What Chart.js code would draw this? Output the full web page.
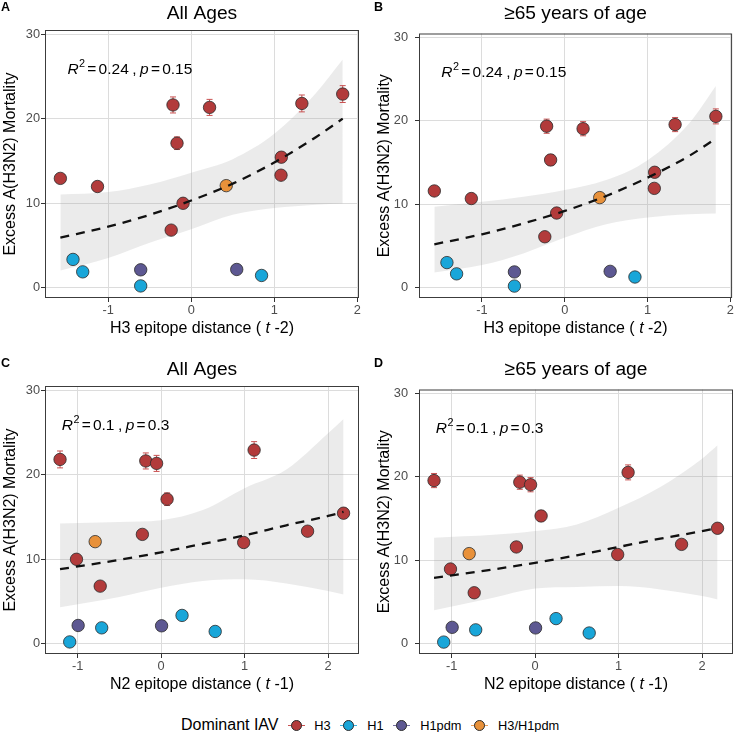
<!DOCTYPE html>
<html>
<head>
<meta charset="utf-8">
<script src="https://cdn.jsdelivr.net/npm/chart.js@4.4.0/dist/chart.umd.min.js"></script>
<style>
  body { margin: 0; background: #fff; font-family: 'Liberation Sans', Arial, sans-serif; }
  #page { position: relative; width: 735px; height: 732px; overflow: hidden; }
  canvas.panel { position: absolute; }
  #legend { position: absolute; left: 181px; top: 714px; height: 22px; display: flex; align-items: center; white-space: nowrap; }
  #legend .ltitle { font-size: 16px; color: #000; margin-right: 9px; }
  #legend .key { position: relative; display: inline-block; width: 17px; height: 12px; margin-right: 9.8px; }
  #legend .key i { position: absolute; left: 0; right: 0; top: 5.5px; height: 1px; }
  #legend .key b { position: absolute; left: 3px; top: 0.5px; width: 11px; height: 11px; border-radius: 50%; border: 0.8px solid #2b2b2b; box-sizing: border-box; }
  #legend .ltext { font-size: 12.8px; color: #000; margin-right: 9.8px; }
</style>
</head>
<body>
<div id="page">
  <canvas id="panelA" class="panel" width="367" height="350" style="left:0;top:0"></canvas>
  <canvas id="panelB" class="panel" width="368" height="350" style="left:367px;top:0"></canvas>
  <canvas id="panelC" class="panel" width="367" height="350" style="left:0;top:356px"></canvas>
  <canvas id="panelD" class="panel" width="368" height="350" style="left:367px;top:356px"></canvas>
  <div id="legend"><span class="ltitle">Dominant IAV</span></div>
</div>
<script>
// one entry per season
const subtypeNames = ['H3', 'H1', 'H1pdm', 'H3/H1pdm'];
const seasonSubtype = ['H3', 'H3', 'H3', 'H3', 'H3', 'H3', 'H3', 'H3', 'H3', 'H3', 'H3', 'H3/H1pdm', 'H1', 'H1', 'H1', 'H1', 'H1pdm', 'H1pdm'];
const h3EpitopeDist = [-1.575, -1.128, -0.219, -0.171, -0.098, -0.241, 0.221, 1.085, 1.081, 1.332, 1.824, 0.422, -1.423, -1.306, -0.608, 0.847, -0.608, 0.548];
const n2EpitopeDist = [-0.224, 0.989, -0.183, 0.072, -1.013, -0.729, -0.054, 2.185, 1.754, -1.210, 1.114, -0.789, 0.251, -0.711, -1.094, 0.648, 0.006, -0.993];
const excessAllAges = [12.92, 11.96, 21.62, 17.09, 9.97, 6.79, 21.33, 15.43, 13.30, 21.80, 22.91, 12.06, 3.32, 1.85, 0.18, 1.42, 2.09, 2.13];
const excessAllAgesErr = [0.5, 0.45, 0.95, 0.75, 0.4, 0.3, 0.95, 0.6, 0.5, 1.0, 1.0, 0.4, 0.15, 0.1, 0.05, 0.1, 0.1, 0.1];
const excess65 = [11.60, 10.69, 19.37, 15.32, 8.95, 6.10, 19.07, 13.84, 11.91, 19.57, 20.55, 10.80, 3.00, 1.65, 0.18, 1.27, 1.88, 1.95];
const excess65Err = [0.45, 0.4, 0.85, 0.65, 0.35, 0.25, 0.85, 0.55, 0.45, 0.85, 0.9, 0.35, 0.12, 0.08, 0.04, 0.08, 0.08, 0.08];

// fitted trend and its confidence band
const trendXA = [-1.575, -1.0, -0.5, 0, 0.5, 1.0, 1.5, 1.824];
const trendFitA = [5.9, 7.2, 8.6, 10.3, 12.3, 14.8, 17.8, 20.0];
const trendLowA = [2.0, 3.5, 5.3, 6.9, 8.6, 9.4, 9.8, 9.95];
const trendHighA = [11.0, 11.3, 12.2, 13.6, 15.2, 18.2, 23.0, 27.0];

const trendXB = [-1.575, -1.0, -0.5, 0, 0.5, 1.0, 1.5, 1.824];
const trendFitB = [5.2, 6.4, 7.7, 9.2, 11.0, 13.2, 15.8, 17.9];
const trendLowB = [1.8, 2.7, 4.1, 6.0, 7.6, 8.4, 8.8, 8.9];
const trendHighB = [9.7, 10.3, 10.9, 11.7, 12.9, 15.3, 19.7, 24.2];

const trendXC = [-1.21, -0.5, 0, 0.5, 1.0, 1.5, 2.0, 2.185];
const trendFitC = [8.8, 9.9, 10.8, 11.8, 12.8, 14.0, 15.1, 15.6];
const trendLowC = [4.3, 5.5, 6.6, 7.4, 7.6, 7.1, 6.2, 5.8];
const trendHighC = [14.2, 14.4, 14.6, 15.8, 18.4, 20.6, 24.9, 26.6];

const trendXD = [-1.21, -0.5, 0, 0.5, 1.0, 1.5, 2.0, 2.185];
const trendFitD = [7.9, 8.9, 9.7, 10.6, 11.6, 12.6, 13.5, 13.9];
const trendLowD = [4.0, 5.5, 6.6, 6.8, 6.9, 6.5, 5.7, 5.3];
const trendHighD = [12.7, 13.05, 13.5, 14.3, 16.3, 18.8, 22.2, 23.8];

const statR2 = ['0.24', '0.24', '0.1', '0.1'];
const statP = ['0.15', '0.15', '0.3', '0.3'];

const xTickValues = [-1, 0, 1, 2];
const yTickValues = [0, 10, 20, 30];
const xLimitsH3 = [-1.76, 2.02];
const xLimitsN2 = [-1.39, 2.37];
const yLimits = [-1.25, 30.5];

const FONT = "'Liberation Sans', Arial, Helvetica, sans-serif";
const subtypeColors = { 'H3': '#B23B3B', 'H1': '#19A6D9', 'H1pdm': '#5D5892', 'H3/H1pdm': '#E8913A' };
const errorColors = { 'H3': '#C95252', 'H1': '#3DB3DE', 'H1pdm': '#7470A2', 'H3/H1pdm': '#EBA05A' };

Chart.defaults.font.family = FONT;

function drawRich(ctx, parts, x, y, size, align) {
  const widths = parts.map(p => {
    ctx.font = (p.italic ? 'italic ' : '') + (p.sup ? size * 0.7 : size) + 'px ' + FONT;
    return ctx.measureText(p.text).width + (p.gap || 0);
  });
  const total = widths.reduce((a, b) => a + b, 0);
  let cx = align === 'center' ? x - total / 2 : x;
  ctx.textAlign = 'left';
  ctx.textBaseline = 'alphabetic';
  parts.forEach((p, i) => {
    ctx.font = (p.italic ? 'italic ' : '') + (p.sup ? size * 0.7 : size) + 'px ' + FONT;
    ctx.fillText(p.text, cx, p.sup ? y - size * 0.42 : y);
    cx += widths[i];
  });
}

const panelDecor = {
  id: 'panelDecor',
  beforeDatasetDraw(chart, args) {
    const ds = chart.data.datasets[args.index];
    if (!ds.errors) return;
    const { ctx, scales: { x, y } } = chart;
    ctx.save();
    ctx.strokeStyle = ds.errorColor;
    ctx.lineWidth = 1;
    ds.data.forEach((pt, i) => {
      const e = ds.errors[i];
      if (!e) return;
      const px = x.getPixelForValue(pt.x);
      const y1 = y.getPixelForValue(pt.y + e);
      const y2 = y.getPixelForValue(pt.y - e);
      ctx.beginPath();
      ctx.moveTo(px, y1); ctx.lineTo(px, y2);
      ctx.moveTo(px - 3, y1); ctx.lineTo(px + 3, y1);
      ctx.moveTo(px - 3, y2); ctx.lineTo(px + 3, y2);
      ctx.stroke();
    });
    ctx.restore();
  },
  afterDraw(chart, args, opts) {
    const { ctx, chartArea: a, scales: { x, y } } = chart;
    ctx.save();
    ctx.strokeStyle = '#3c3c3c';
    ctx.lineWidth = 1;
    ctx.strokeRect(a.left + 0.5, a.top + 0.5, a.right - a.left - 1, a.bottom - a.top - 1);

    ctx.fillStyle = '#000';
    ctx.font = 'bold 12.5px ' + FONT;
    ctx.textAlign = 'left';
    ctx.fillText(opts.letter, opts.letterX, 11);

    ctx.font = '19.2px ' + FONT;
    ctx.textAlign = 'center';
    ctx.fillText(opts.title, (a.left + a.right) / 2, 19);

    // plotmath-like spacing: tighter than normal spaces
    drawRich(ctx, [
      { text: 'R', italic: true, gap: 0.5 },
      { text: '2', sup: true, gap: 2.2 },
      { text: '=', gap: 2.2 },
      { text: opts.r2, gap: 3.5 },
      { text: ',', gap: 3.5 },
      { text: 'p', italic: true, gap: 2.2 },
      { text: '=', gap: 2.2 },
      { text: opts.p }
    ], x.getPixelForValue(opts.statAt[0]), y.getPixelForValue(opts.statAt[1]), 15.5, 'left');

    drawRich(ctx, [
      { text: opts.xTitle + ' ( ' },
      { text: 't', italic: true },
      { text: ' -' + opts.lag + ')' }
    ], (a.left + a.right) / 2, a.bottom + 35, 16, 'center');
    ctx.restore();
  }
};

function makePanel(p) {
  const canvas = document.getElementById(p.id);
  const W = canvas.width, H = canvas.height;
  const pointSets = subtypeNames.map(name => {
    const idx = seasonSubtype.map((s, i) => (s === name ? i : -1)).filter(i => i >= 0);
    return {
      label: name,
      data: idx.map(i => ({ x: p.x[i], y: p.y[i] })),
      errors: idx.map(i => p.err[i]),
      errorColor: errorColors[name],
      showLine: false,
      pointRadius: 6.2,
      pointHoverRadius: 6.2,
      pointBackgroundColor: subtypeColors[name],
      pointBorderColor: '#2b2b2b',
      pointBorderWidth: 0.8,
      order: 1
    };
  });

  new Chart(canvas, {
    type: 'line',
    data: {
      datasets: [
        {
          data: p.trend.x.map((v, i) => ({ x: v, y: p.trend.low[i] })),
          borderWidth: 0, pointRadius: 0, fill: false,
          cubicInterpolationMode: 'monotone', order: 5
        },
        {
          data: p.trend.x.map((v, i) => ({ x: v, y: p.trend.high[i] })),
          borderWidth: 0, pointRadius: 0, fill: '-1',
          backgroundColor: 'rgba(153,153,153,0.2)',
          cubicInterpolationMode: 'monotone', order: 4
        },
        {
          data: p.trend.x.map((v, i) => ({ x: v, y: p.trend.fit[i] })),
          borderColor: '#111', borderWidth: 2.3, borderDash: [9, 7],
          pointRadius: 0, fill: false,
          cubicInterpolationMode: 'monotone', order: 0
        },
        ...pointSets
      ]
    },
    options: {
      responsive: false,
      animation: false,
      events: [],
      layout: { autoPadding: false, padding: { left: 0, right: W - p.plotRight, top: p.plotTop, bottom: 0 } },
      plugins: {
        legend: { display: false },
        tooltip: { enabled: false },
        panelDecor: {
          letter: p.letter, letterX: p.letterX, title: p.title,
          r2: p.r2, p: p.p, statAt: p.statAt,
          xTitle: p.xTitle, lag: p.lag
        }
      },
      scales: {
        x: {
          type: 'linear', min: p.xlim[0], max: p.xlim[1],
          afterBuildTicks: s => { s.ticks = xTickValues.map(v => ({ value: v })); },
          afterFit: s => { s.height = H - 298; },
          grid: { color: '#dcdcdc', tickColor: '#333', tickLength: 4, lineWidth: 1 },
          border: { display: false },
          ticks: { color: '#4d4d4d', font: { size: 12.8 }, padding: 1, maxRotation: 0, autoSkip: false }
        },
        y: {
          type: 'linear', min: yLimits[0], max: yLimits[1],
          afterBuildTicks: s => { s.ticks = yTickValues.map(v => ({ value: v })); },
          afterFit: s => { s.width = p.plotLeft; },
          grid: { color: '#dcdcdc', tickColor: '#333', tickLength: 4, lineWidth: 1 },
          border: { display: false },
          ticks: { color: '#4d4d4d', font: { size: 12.8 }, padding: p.yTickPad, autoSkip: false },
          title: {
            display: true, text: 'Excess A(H3N2) Mortality', color: '#000',
            font: { size: 16 }, padding: { top: p.yTitlePad, bottom: 0 }
          }
        }
      }
    },
    plugins: [panelDecor]
  });
}

const panels = [
  {
    id: 'panelA', letter: 'A', letterX: 1, title: 'All Ages',
    x: h3EpitopeDist, y: excessAllAges, err: excessAllAgesErr, xlim: xLimitsH3,
    trend: { x: trendXA, fit: trendFitA, low: trendLowA, high: trendHighA },
    r2: statR2[0], p: statP[0], statAt: [-1.49, 25.3],
    xTitle: 'H3 epitope distance', lag: '2',
    plotLeft: 45, plotRight: 359, plotTop: 30, yTickPad: 1, yTitlePad: 1.2
  },
  {
    id: 'panelB', letter: 'B', letterX: 7, title: '\u226565 years of age',
    x: h3EpitopeDist, y: excess65, err: excess65Err, xlim: xLimitsH3,
    trend: { x: trendXB, fit: trendFitB, low: trendLowB, high: trendHighB },
    r2: statR2[1], p: statP[1], statAt: [-1.49, 25.3],
    xTitle: 'H3 epitope distance', lag: '2',
    plotLeft: 52, plotRight: 366, plotTop: 33.5, yTickPad: 7, yTitlePad: 8.4
  },
  {
    id: 'panelC', letter: 'C', letterX: 1, title: 'All Ages',
    x: n2EpitopeDist, y: excessAllAges, err: excessAllAgesErr, xlim: xLimitsN2,
    trend: { x: trendXC, fit: trendFitC, low: trendLowC, high: trendHighC },
    r2: statR2[2], p: statP[2], statAt: [-1.19, 25.3],
    xTitle: 'N2 epitope distance', lag: '1',
    plotLeft: 45, plotRight: 359, plotTop: 30, yTickPad: 1, yTitlePad: 1.2
  },
  {
    id: 'panelD', letter: 'D', letterX: 7, title: '\u226565 years of age',
    x: n2EpitopeDist, y: excess65, err: excess65Err, xlim: xLimitsN2,
    trend: { x: trendXD, fit: trendFitD, low: trendLowD, high: trendHighD },
    r2: statR2[3], p: statP[3], statAt: [-1.19, 25.3],
    xTitle: 'N2 epitope distance', lag: '1',
    plotLeft: 52, plotRight: 366, plotTop: 33.5, yTickPad: 7, yTitlePad: 8.4
  }
];

panels.forEach(makePanel);

// shared legend
const legend = document.getElementById('legend');
subtypeNames.forEach(name => {
  const key = document.createElement('span');
  key.className = 'key';
  key.innerHTML = `<i style="background:${errorColors[name]}"></i><b style="background:${subtypeColors[name]}"></b>`;
  const label = document.createElement('span');
  label.className = 'ltext';
  label.textContent = name;
  legend.appendChild(key);
  legend.appendChild(label);
});
</script>
</body>
</html>
